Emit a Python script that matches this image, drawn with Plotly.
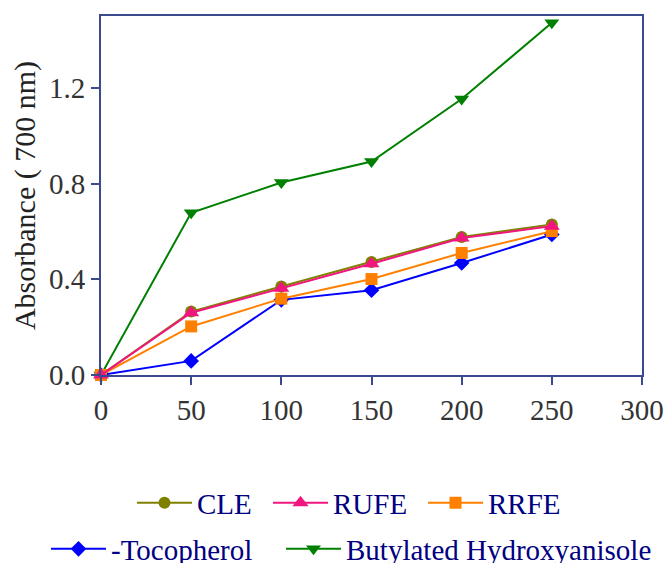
import plotly.graph_objects as go

conc = [0, 50, 100, 150, 200, 250]
cle = [0.0, 0.265, 0.370, 0.472, 0.577, 0.629]
rufe = [0.0, 0.260, 0.362, 0.465, 0.572, 0.622]
rrfe = [0.0, 0.203, 0.319, 0.401, 0.510, 0.601]
toco = [0.0, 0.059, 0.314, 0.354, 0.468, 0.587]
bha = [0.0, 0.678, 0.804, 0.892, 1.153, 1.472]

FONT = "Liberation Serif, Times New Roman, serif"
AX = "#3b4a8c"

fig = go.Figure()

def add(name, y, color, symbol, legend, size=12):
    fig.add_trace(go.Scatter(
        x=conc, y=y, name=name, mode="lines+markers",
        line=dict(color=color, width=2),
        marker=dict(symbol=symbol, color=color, size=size),
        cliponaxis=False, legend=legend, showlegend=True))

add("Butylated Hydroxyanisole", bha, "#008000", "triangle-down", "legend5", 13)
add("-Tocopherol", toco, "#0000ff", "diamond", "legend4", 12)
add("CLE", cle, "#808000", "circle", "legend", 12)
add("RRFE", rrfe, "#ff8000", "square", "legend3", 12)
add("RUFE", rufe, "#f0157f", "triangle-up", "legend2", 14)

# legend placement (plot area: x 101..642 px, y 16..375 px)
def leg(px_left, py_mid):
    return dict(orientation="h", x=(px_left - 101) / 541, y=(375 - py_mid) / 359,
                xanchor="left", yanchor="middle", itemwidth=55,
                font=dict(family=FONT, size=29, color="#000080"),
                bgcolor="rgba(0,0,0,0)")

fig.update_layout(
    width=667, height=563, showlegend=True,
    margin=dict(l=101, r=25, t=16, b=188, autoexpand=False),
    plot_bgcolor="white", paper_bgcolor="white",
    font=dict(family=FONT, size=29, color="#333333"),
    legend=leg(132, 503),
    legend2=leg(268, 503),
    legend3=leg(423, 503),
    legend4=leg(46, 549),
    legend5=leg(281, 549),
)
fig.update_xaxes(range=[0, 300], tickvals=[0, 50, 100, 150, 200, 250, 300],
                 showgrid=False, zeroline=False, showline=True, linecolor=AX,
                 linewidth=2, mirror=True, ticks="outside", ticklen=8,
                 tickwidth=2, tickcolor=AX, automargin=False)
fig.update_yaxes(range=[0, 1.5], tickvals=[0, 0.4, 0.8, 1.2], tickformat=".1f",
                 showgrid=False, zeroline=False, showline=True, linecolor=AX,
                 linewidth=2, mirror=True, ticks="outside", ticklen=8,
                 tickwidth=2, tickcolor=AX, automargin=False,
                 title=dict(text="Absorbance ( 700 nm)",
                            font=dict(family=FONT, size=30, color="#222222"),
                            standoff=4))
fig.write_html("out.html", config={"displayModeBar": False},
               post_script="document.body.style.margin='0px';")
